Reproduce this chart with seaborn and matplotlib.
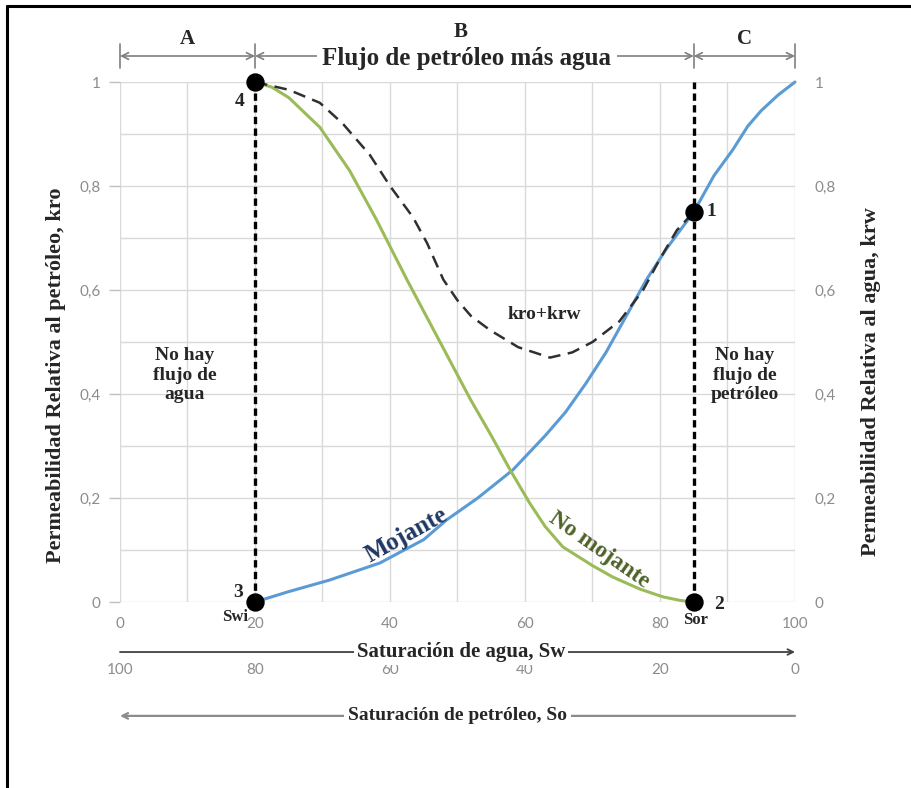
import matplotlib
matplotlib.use("Agg")
import matplotlib.pyplot as plt
import seaborn as sns
import pandas as pd
from matplotlib.lines import Line2D
from matplotlib.ticker import MultipleLocator, FuncFormatter

# ---------------- data ----------------
sw_krw = [20, 25, 31, 38.5, 45, 48.4, 53, 58.2, 63, 66, 69, 72, 75, 78, 81, 85, 88, 90.8, 93, 95, 97.5, 100]
krw = [0, 0.02, 0.042, 0.075, 0.12, 0.158, 0.2, 0.254, 0.32, 0.365, 0.42, 0.48, 0.55, 0.62, 0.68, 0.75, 0.82, 0.87, 0.915, 0.945, 0.975, 1.0]

sw_kro = [20, 22.5, 25, 29.6, 34, 38, 42.5, 47, 51.9, 55, 57.8, 60.7, 63, 65.6, 70, 73, 77, 80.4, 83, 85]
kro = [1.0, 0.99, 0.97, 0.913, 0.83, 0.735, 0.62, 0.51, 0.39, 0.32, 0.254, 0.19, 0.145, 0.106, 0.07, 0.048, 0.025, 0.01, 0.003, 0]

sw_sum = [20, 25, 29.6, 33, 37, 40, 43.4, 45.5, 47.9, 50, 52, 54.8, 59, 63.7, 67, 70, 74, 77.5, 80, 82.5, 85]
kro_krw = [1.0, 0.985, 0.96, 0.92, 0.86, 0.80, 0.74, 0.69, 0.62, 0.58, 0.55, 0.523, 0.49, 0.47, 0.48, 0.50, 0.54, 0.60, 0.66, 0.715, 0.75]

swi = 20          # irreducible water saturation
sw_or = 85        # water saturation at residual oil
pts_x = [85, 85, 20, 20]
pts_y = [0.75, 0, 0, 1]
pts_lab = ["1", "2", "3", "4"]

x_ticks = [0, 20, 40, 60, 80, 100]
y_ticks = [0, 0.2, 0.4, 0.6, 0.8, 1.0]
regions = ["A", "B", "C"]

# ---------------- style ----------------
sns.set_style("white")
plt.rcParams['font.family'] = ['Lato', 'DejaVu Sans']
SERIF = dict(family=['Liberation Serif', 'DejaVu Serif'], weight='bold')
BLUE = '#5B9BD5'
GREEN = '#9BBB59'
TICKC = '#8C8C8C'
GRIDC = '#D9D9D9'

W, H = 912, 788
fig = plt.figure(figsize=(W / 100, H / 100), dpi=100)
ax = fig.add_axes([120 / W, 1 - 602 / H, 675 / W, 520 / H])

# curves
sns.lineplot(x=sw_krw, y=krw, ax=ax, color=BLUE, lw=2.2, sort=False, estimator=None, clip_on=False, zorder=3)
sns.lineplot(x=sw_kro, y=kro, ax=ax, color=GREEN, lw=2.2, sort=False, estimator=None, clip_on=False, zorder=3)
sns.lineplot(x=sw_sum, y=kro_krw, ax=ax, color='#303030', lw=1.8, sort=False, estimator=None,
             linestyle=(0, (5, 3)), clip_on=False, zorder=3)
for xv in (swi, sw_or):
    sns.lineplot(x=[xv, xv], y=[0, 1], ax=ax, color='black', lw=2.4, sort=False, estimator=None,
                 linestyle=(0, (2.2, 1.3)), clip_on=False, zorder=4)

sns.scatterplot(x=pts_x, y=pts_y, ax=ax, s=150, color='black', edgecolor='black', zorder=6, clip_on=False)

# axes
ax.set_xlim(0, 100)
ax.set_ylim(0, 1)
ax.set_xticks(x_ticks)
ax.set_yticks(y_ticks)
ax.xaxis.set_minor_locator(MultipleLocator(10))
ax.yaxis.set_minor_locator(MultipleLocator(0.1))
ax.grid(True, which='both', color=GRIDC, lw=1.0)
ax.set_axisbelow(True)
for s in ax.spines.values():
    s.set_visible(False)
fmt = FuncFormatter(lambda v, p: ('%g' % round(v, 1)).replace('.', ','))
ax.yaxis.set_major_formatter(fmt)
ax.xaxis.set_major_formatter(FuncFormatter(lambda v, p: '%d' % v))
ax.tick_params(axis='x', which='both', length=0, pad=11, labelsize=11, labelcolor=TICKC)
ax.tick_params(axis='y', which='major', length=8, width=1, color='#BFBFBF', pad=6, labelsize=11, labelcolor=TICKC)
ax.tick_params(axis='y', which='minor', length=0)
ax.set_xlabel('')
ax.set_ylabel('Permeabilidad Relativa al petróleo, kro', fontsize=16, **SERIF)
ax.yaxis.set_label_coords(-0.080, 0.4365)

ax2 = ax.twinx()
ax2.set_ylim(0, 1)
ax2.set_yticks(y_ticks)
ax2.yaxis.set_major_formatter(fmt)
ax2.tick_params(axis='y', length=0, pad=14, labelsize=11, labelcolor=TICKC)
for s in ax2.spines.values():
    s.set_visible(False)
ax2.set_ylabel('Permeabilidad Relativa al agua, krw', fontsize=16, **SERIF)
ax2.yaxis.set_label_coords(1.098, 0.423)

# secondary (oil saturation) axis, reversed
sec = ax.secondary_xaxis(-0.118, functions=(lambda x: 100 - x, lambda x: 100 - x))
sec.set_xticks(x_ticks)
sec.xaxis.set_major_formatter(FuncFormatter(lambda v, p: '%d' % round(v)))
sec.tick_params(axis='x', length=0, pad=0, labelsize=11, labelcolor=TICKC)
for s in sec.spines.values():
    s.set_visible(False)

trans = ax.get_xaxis_transform()

# bottom arrows
y_a1 = -0.0962
ax.annotate('', xy=(100, y_a1), xytext=(0, y_a1), xycoords=trans, textcoords=trans,
            arrowprops=dict(arrowstyle='->', color='#404040', lw=1.3, shrinkA=0, shrinkB=0), annotation_clip=False)
ax.text(50.5, y_a1, 'Saturación de agua, Sw', transform=trans, ha='center', va='center', fontsize=15,
        bbox=dict(fc='white', ec='none', pad=2), zorder=5, **SERIF)
y_a2 = -0.219
ax.annotate('', xy=(0, y_a2), xytext=(100, y_a2), xycoords=trans, textcoords=trans,
            arrowprops=dict(arrowstyle='->', color='#8C8C8C', lw=1.6, shrinkA=0, shrinkB=0), annotation_clip=False)
ax.text(50.0, y_a2, 'Saturación de petróleo, So', transform=trans, ha='center', va='center', fontsize=14,
        bbox=dict(fc='white', ec='none', pad=3), zorder=5, **SERIF)

# top region arrows
edges = [0, swi, sw_or, 100]
y_top = 1.050
for a, b in zip(edges[:-1], edges[1:]):
    ax.annotate('', xy=(b, y_top), xytext=(a, y_top), xycoords=trans, textcoords=trans,
                arrowprops=dict(arrowstyle='<->', color='#7F7F7F', lw=1.2, shrinkA=0, shrinkB=0,
                                mutation_scale=12), annotation_clip=False)
for e in edges:
    ax.plot([e, e], [1.026, 1.074], transform=trans, color='#7F7F7F', lw=1.2, clip_on=False)
ax.text(10, 1.082, regions[0], transform=trans, ha='center', va='center', fontsize=15, **SERIF)
ax.text(50.5, 1.097, regions[1], transform=trans, ha='center', va='center', fontsize=15, **SERIF)
ax.text(92.5, 1.082, regions[2], transform=trans, ha='center', va='center', fontsize=15, **SERIF)
ax.text(51.4, 1.046, 'Flujo de petróleo más agua', transform=trans, ha='center', va='center', fontsize=18,
        bbox=dict(fc='white', ec='none', pad=4), zorder=5, **SERIF)

# in-plot texts
ax.text(62.9, 0.552, 'kro+krw', ha='center', va='center', fontsize=14, **SERIF)
ax.text(9.6, 0.4365, 'No hay\nflujo de\nagua', ha='center', va='center', fontsize=14, linespacing=1.2, **SERIF)
ax.text(92.6, 0.4365, 'No hay\nflujo de\npetróleo', ha='center', va='center', fontsize=14, linespacing=1.2, **SERIF)
ax.text(42.5, 0.128, 'Mojante', ha='center', va='center', rotation=29, color='#1F3864', fontsize=18, **SERIF)
ax.text(71.0, 0.10, 'No mojante', ha='center', va='center', rotation=-35, color='#4F6228', fontsize=17, **SERIF)

# point labels
offs = {"1": (13, 0), "2": (18, -2), "3": (-12, 7), "4": (-11, -14)}
for xv, yv, lab in zip(pts_x, pts_y, pts_lab):
    ax.annotate(lab, (xv, yv), xytext=offs[lab], textcoords='offset points', ha='center', va='center',
                fontsize=14, annotation_clip=False, **SERIF)
ax.annotate('Swi', (swi, 0), xytext=(-14, -11), textcoords='offset points', ha='center', va='center',
            fontsize=12, annotation_clip=False, zorder=2, **SERIF)
ax.annotate('Sor', (sw_or, 0), xytext=(1, -13), textcoords='offset points', ha='center', va='center',
            fontsize=12, annotation_clip=False, zorder=2, **SERIF)

# outer frame (open on right/bottom)
fig.add_artist(Line2D([7 / W, 7 / W], [0, 1 - 6 / H], color='black', lw=2.2))
fig.add_artist(Line2D([7 / W, 1], [1 - 6 / H, 1 - 6 / H], color='black', lw=2.2))

fig.savefig('out.png', dpi=100)
